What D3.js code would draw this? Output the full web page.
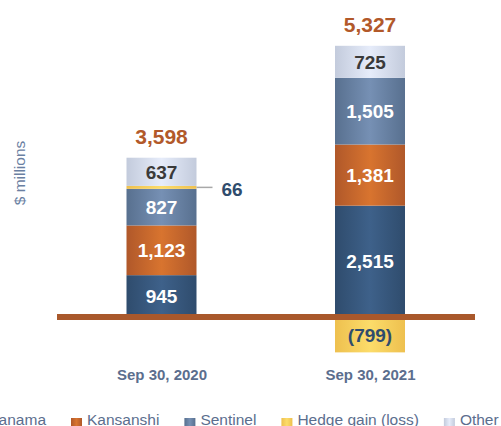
<!DOCTYPE html>
<html><head><meta charset="utf-8">
<script src="https://cdn.jsdelivr.net/npm/d3@7"></script>
<style>
html,body{margin:0;padding:0;background:#fff;}
svg{display:block;font-family:"Liberation Sans",Arial,Helvetica,sans-serif;}
</style></head><body>
<svg id="chart" width="501" height="426"></svg>
<script>
const categories = ["Sep 30, 2020", "Sep 30, 2021"];
const seriesNames = ["Panama", "Kansanshi", "Sentinel", "Hedge gain (loss)", "Other"];
const panama = [945, 2515];
const kansanshi = [1123, 1381];
const sentinel = [827, 1505];
const hedge = [66, -799];
const other = [637, 725];
const totals = [3598, 5327];

const seriesValues = [panama, kansanshi, sentinel, hedge, other];
const colors = {
  "Panama": ["#2f4c6d", "#3e618a"],
  "Kansanshi": ["#b0582a", "#d8742f"],
  "Sentinel": ["#58708f", "#7690b4"],
  "Hedge gain (loss)": ["#eec04f", "#fcdc6a"],
  "Other": ["#c3cbdc", "#e6ecfa"]
};
const labelColors = {
  "Panama": "#ffffff", "Kansanshi": "#ffffff", "Sentinel": "#ffffff",
  "Hedge gain (loss)": "#2f4c6d", "Other": "#3a3a3a"
};

const svg = d3.select("#chart");
const defs = svg.append("defs");
seriesNames.forEach((s, i) => {
  const g = defs.append("linearGradient").attr("id", "grad" + i)
    .attr("x1", "0%").attr("x2", "100%").attr("y1", "0%").attr("y2", "0%");
  g.append("stop").attr("offset", "0%").attr("stop-color", colors[s][0]);
  g.append("stop").attr("offset", "50%").attr("stop-color", colors[s][1]);
  g.append("stop").attr("offset", "100%").attr("stop-color", colors[s][0]);
});

const table = categories.map((c, i) => {
  const row = { cat: c };
  seriesNames.forEach((s, j) => row[s] = seriesValues[j][i]);
  return row;
});

const stack = d3.stack().keys(seriesNames).offset(d3.stackOffsetDiverging);
const stacked = stack(table);

const y = d3.scaleLinear().domain([0, 6126]).range([317, 45.8]);
const x = d3.scalePoint().domain(categories).range([161.5, 370]);
const barW = 70;

const fmt = d3.format(",");

const layers = svg.append("g").selectAll("g").data(stacked).join("g")
  .attr("fill", (d, i) => "url(#grad" + i + ")");
layers.selectAll("rect").data(d => d.map(p => ({ p, key: d.key }))).join("rect")
  .attr("x", d => x(d.p.data.cat) - barW / 2)
  .attr("width", barW)
  .attr("y", d => y(Math.max(d.p[0], d.p[1])))
  .attr("height", d => Math.abs(y(d.p[0]) - y(d.p[1])));

// segment labels
stacked.forEach((layer, li) => {
  layer.forEach((p, ci) => {
    const v = p.data[layer.key];
    const cx = x(p.data.cat);
    const cy = (y(p[0]) + y(p[1])) / 2;
    const h = Math.abs(y(p[0]) - y(p[1]));
    const txt = v < 0 ? "(" + fmt(-v) + ")" : fmt(v);
    if (h > 15) {
      svg.append("text").attr("x", cx).attr("y", cy).attr("dy", "0.36em")
        .attr("text-anchor", "middle").attr("font-size", 19).attr("font-weight", "bold")
        .attr("fill", labelColors[layer.key]).text(txt);
    } else {
      const lx = cx + barW / 2;
      svg.append("line").attr("x1", lx).attr("x2", lx + 16).attr("y1", cy).attr("y2", cy)
        .attr("stroke", "#a8a8a8").attr("stroke-width", 1.5);
      svg.append("text").attr("x", lx + 25).attr("y", cy + 1.5).attr("dy", "0.36em")
        .attr("text-anchor", "start").attr("font-size", 19).attr("font-weight", "bold")
        .attr("fill", "#2f4c6d").text(txt);
    }
  });
});

// totals
categories.forEach((c, i) => {
  const top = d3.max(stacked, l => l[i][1]);
  svg.append("text").attr("x", x(c)).attr("y", y(top) - 14)
    .attr("text-anchor", "middle").attr("font-size", 21).attr("font-weight", "bold")
    .attr("fill", "#b2592a").text(fmt(totals[i]));
});

// baseline
svg.append("rect").attr("x", 57).attr("width", 418).attr("y", y(0) - 3).attr("height", 6)
  .attr("fill", "#a9582b");

// x axis labels
const xAxis = d3.axisBottom(x).tickSize(0).tickPadding(0);
const ax = svg.append("g").attr("transform", "translate(0,369)").call(xAxis);
ax.select(".domain").remove();
ax.selectAll("text").attr("font-size", 15).attr("font-weight", "bold")
  .attr("fill", "#5b6e8e").attr("font-family", "Liberation Sans, Arial, sans-serif");

// y title
svg.append("text").attr("transform", "translate(25,173) rotate(-90)")
  .attr("text-anchor", "middle").attr("font-size", 15.5).attr("fill", "#6a80a2")
  .text("$ millions");

// legend
const legend = svg.append("g");
const items = legend.selectAll("g").data(seriesNames).join("g");
items.append("rect").attr("width", 11).attr("height", 12).attr("y", 418)
  .attr("fill", (d, i) => "url(#grad" + i + ")");
items.append("text").attr("x", 16).attr("y", 424.5).attr("font-size", 15.5)
  .attr("fill", "#5b6e8e").text(d => d);
const widths = [];
items.each(function() { widths.push(this.querySelector("text").getComputedTextLength()); });
let xs = [];
let cur = 71 - (16 + widths[0] + 25);
widths.forEach(w => { xs.push(cur); cur += 16 + w + 25; });
items.attr("transform", (d, i) => "translate(" + xs[i] + ",0)");
</script>
</body></html>
